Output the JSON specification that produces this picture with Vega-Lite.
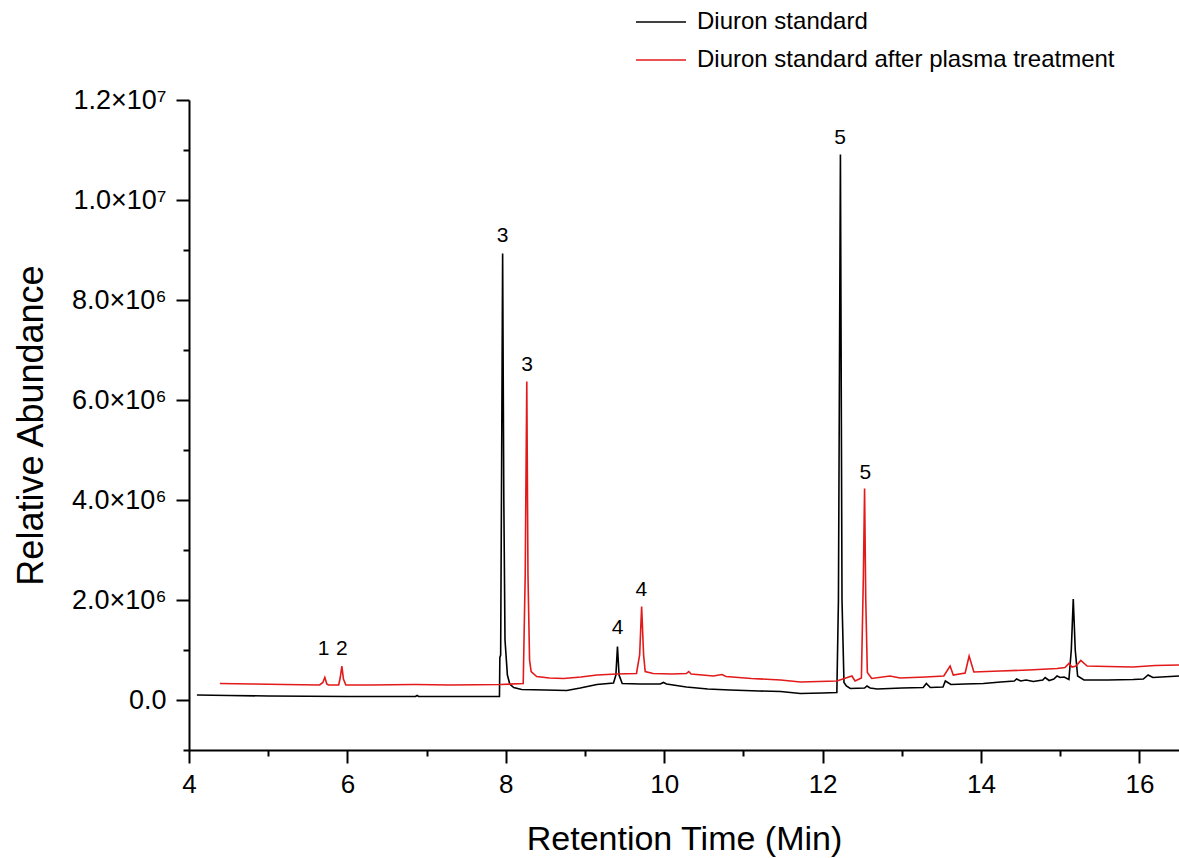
{
  "$schema": "https://vega.github.io/schema/vega-lite/v6.json",
  "width": 990,
  "height": 650,
  "autosize": {"type": "none"},
  "padding": {"left": 189, "right": 0, "top": 100, "bottom": 108},
  "background": "white",
  "config": {
    "view": {"stroke": null},
    "font": "Liberation Sans",
    "axis": {"grid": false, "domainColor": "black", "domainWidth": 2, "tickColor": "black", "tickWidth": 2, "labelColor": "black", "titleColor": "black", "labelFont": "Liberation Sans", "titleFont": "Liberation Sans", "titleFontWeight": "normal"}
  },
  "datasets": {
    "traces": [
      {"t": 4.10, "v": 100000, "s": "Diuron standard"},
      {"t": 4.5, "v": 90000, "s": "Diuron standard"},
      {"t": 5.0, "v": 80000, "s": "Diuron standard"},
      {"t": 5.5, "v": 75000, "s": "Diuron standard"},
      {"t": 6.0, "v": 70000, "s": "Diuron standard"},
      {"t": 6.86, "v": 70000, "s": "Diuron standard"},
      {"t": 6.88, "v": 90000, "s": "Diuron standard"},
      {"t": 6.90, "v": 70000, "s": "Diuron standard"},
      {"t": 7.5, "v": 70000, "s": "Diuron standard"},
      {"t": 7.92, "v": 70000, "s": "Diuron standard"},
      {"t": 7.925, "v": 850000, "s": "Diuron standard"},
      {"t": 7.935, "v": 900000, "s": "Diuron standard"},
      {"t": 7.945, "v": 4000000, "s": "Diuron standard"},
      {"t": 7.96, "v": 8930000, "s": "Diuron standard"},
      {"t": 7.975, "v": 4000000, "s": "Diuron standard"},
      {"t": 7.99, "v": 1200000, "s": "Diuron standard"},
      {"t": 8.02, "v": 500000, "s": "Diuron standard"},
      {"t": 8.05, "v": 320000, "s": "Diuron standard"},
      {"t": 8.10, "v": 250000, "s": "Diuron standard"},
      {"t": 8.2, "v": 210000, "s": "Diuron standard"},
      {"t": 8.5, "v": 200000, "s": "Diuron standard"},
      {"t": 8.77, "v": 190000, "s": "Diuron standard"},
      {"t": 8.94, "v": 240000, "s": "Diuron standard"},
      {"t": 9.15, "v": 310000, "s": "Diuron standard"},
      {"t": 9.36, "v": 340000, "s": "Diuron standard"},
      {"t": 9.39, "v": 500000, "s": "Diuron standard"},
      {"t": 9.41, "v": 1070000, "s": "Diuron standard"},
      {"t": 9.43, "v": 500000, "s": "Diuron standard"},
      {"t": 9.47, "v": 330000, "s": "Diuron standard"},
      {"t": 9.7, "v": 320000, "s": "Diuron standard"},
      {"t": 9.95, "v": 320000, "s": "Diuron standard"},
      {"t": 9.99, "v": 350000, "s": "Diuron standard"},
      {"t": 10.03, "v": 320000, "s": "Diuron standard"},
      {"t": 10.28, "v": 260000, "s": "Diuron standard"},
      {"t": 10.55, "v": 220000, "s": "Diuron standard"},
      {"t": 10.83, "v": 200000, "s": "Diuron standard"},
      {"t": 11.2, "v": 180000, "s": "Diuron standard"},
      {"t": 11.47, "v": 170000, "s": "Diuron standard"},
      {"t": 11.72, "v": 130000, "s": "Diuron standard"},
      {"t": 12.0, "v": 140000, "s": "Diuron standard"},
      {"t": 12.18, "v": 150000, "s": "Diuron standard"},
      {"t": 12.2, "v": 2000000, "s": "Diuron standard"},
      {"t": 12.225, "v": 10910000, "s": "Diuron standard"},
      {"t": 12.245, "v": 2000000, "s": "Diuron standard"},
      {"t": 12.27, "v": 350000, "s": "Diuron standard"},
      {"t": 12.30, "v": 280000, "s": "Diuron standard"},
      {"t": 12.35, "v": 230000, "s": "Diuron standard"},
      {"t": 12.53, "v": 240000, "s": "Diuron standard"},
      {"t": 12.56, "v": 280000, "s": "Diuron standard"},
      {"t": 12.6, "v": 240000, "s": "Diuron standard"},
      {"t": 12.69, "v": 220000, "s": "Diuron standard"},
      {"t": 13.0, "v": 240000, "s": "Diuron standard"},
      {"t": 13.27, "v": 250000, "s": "Diuron standard"},
      {"t": 13.31, "v": 330000, "s": "Diuron standard"},
      {"t": 13.36, "v": 250000, "s": "Diuron standard"},
      {"t": 13.52, "v": 260000, "s": "Diuron standard"},
      {"t": 13.55, "v": 380000, "s": "Diuron standard"},
      {"t": 13.62, "v": 310000, "s": "Diuron standard"},
      {"t": 13.8, "v": 320000, "s": "Diuron standard"},
      {"t": 14.03, "v": 330000, "s": "Diuron standard"},
      {"t": 14.25, "v": 360000, "s": "Diuron standard"},
      {"t": 14.42, "v": 380000, "s": "Diuron standard"},
      {"t": 14.45, "v": 420000, "s": "Diuron standard"},
      {"t": 14.5, "v": 380000, "s": "Diuron standard"},
      {"t": 14.57, "v": 400000, "s": "Diuron standard"},
      {"t": 14.66, "v": 370000, "s": "Diuron standard"},
      {"t": 14.78, "v": 400000, "s": "Diuron standard"},
      {"t": 14.81, "v": 450000, "s": "Diuron standard"},
      {"t": 14.86, "v": 390000, "s": "Diuron standard"},
      {"t": 14.92, "v": 420000, "s": "Diuron standard"},
      {"t": 14.96, "v": 480000, "s": "Diuron standard"},
      {"t": 15.0, "v": 450000, "s": "Diuron standard"},
      {"t": 15.05, "v": 460000, "s": "Diuron standard"},
      {"t": 15.11, "v": 410000, "s": "Diuron standard"},
      {"t": 15.14, "v": 1000000, "s": "Diuron standard"},
      {"t": 15.165, "v": 2020000, "s": "Diuron standard"},
      {"t": 15.19, "v": 1000000, "s": "Diuron standard"},
      {"t": 15.22, "v": 480000, "s": "Diuron standard"},
      {"t": 15.3, "v": 400000, "s": "Diuron standard"},
      {"t": 15.6, "v": 400000, "s": "Diuron standard"},
      {"t": 15.92, "v": 410000, "s": "Diuron standard"},
      {"t": 16.05, "v": 420000, "s": "Diuron standard"},
      {"t": 16.11, "v": 500000, "s": "Diuron standard"},
      {"t": 16.17, "v": 450000, "s": "Diuron standard"},
      {"t": 16.5, "v": 480000, "s": "Diuron standard"},
      {"t": 4.39, "v": 330000, "s": "Diuron standard after plasma treatment"},
      {"t": 4.8, "v": 320000, "s": "Diuron standard after plasma treatment"},
      {"t": 5.2, "v": 310000, "s": "Diuron standard after plasma treatment"},
      {"t": 5.65, "v": 300000, "s": "Diuron standard after plasma treatment"},
      {"t": 5.69, "v": 350000, "s": "Diuron standard after plasma treatment"},
      {"t": 5.715, "v": 450000, "s": "Diuron standard after plasma treatment"},
      {"t": 5.74, "v": 320000, "s": "Diuron standard after plasma treatment"},
      {"t": 5.76, "v": 300000, "s": "Diuron standard after plasma treatment"},
      {"t": 5.89, "v": 300000, "s": "Diuron standard after plasma treatment"},
      {"t": 5.91, "v": 450000, "s": "Diuron standard after plasma treatment"},
      {"t": 5.93, "v": 680000, "s": "Diuron standard after plasma treatment"},
      {"t": 5.95, "v": 420000, "s": "Diuron standard after plasma treatment"},
      {"t": 5.98, "v": 300000, "s": "Diuron standard after plasma treatment"},
      {"t": 6.3, "v": 300000, "s": "Diuron standard after plasma treatment"},
      {"t": 6.83, "v": 310000, "s": "Diuron standard after plasma treatment"},
      {"t": 6.86, "v": 310000, "s": "Diuron standard after plasma treatment"},
      {"t": 7.3, "v": 300000, "s": "Diuron standard after plasma treatment"},
      {"t": 7.93, "v": 310000, "s": "Diuron standard after plasma treatment"},
      {"t": 8.22, "v": 330000, "s": "Diuron standard after plasma treatment"},
      {"t": 8.245, "v": 2500000, "s": "Diuron standard after plasma treatment"},
      {"t": 8.265, "v": 6370000, "s": "Diuron standard after plasma treatment"},
      {"t": 8.28, "v": 2500000, "s": "Diuron standard after plasma treatment"},
      {"t": 8.30, "v": 800000, "s": "Diuron standard after plasma treatment"},
      {"t": 8.32, "v": 570000, "s": "Diuron standard after plasma treatment"},
      {"t": 8.39, "v": 470000, "s": "Diuron standard after plasma treatment"},
      {"t": 8.55, "v": 440000, "s": "Diuron standard after plasma treatment"},
      {"t": 8.73, "v": 430000, "s": "Diuron standard after plasma treatment"},
      {"t": 8.95, "v": 460000, "s": "Diuron standard after plasma treatment"},
      {"t": 9.15, "v": 500000, "s": "Diuron standard after plasma treatment"},
      {"t": 9.4, "v": 520000, "s": "Diuron standard after plasma treatment"},
      {"t": 9.65, "v": 530000, "s": "Diuron standard after plasma treatment"},
      {"t": 9.69, "v": 900000, "s": "Diuron standard after plasma treatment"},
      {"t": 9.715, "v": 1870000, "s": "Diuron standard after plasma treatment"},
      {"t": 9.74, "v": 900000, "s": "Diuron standard after plasma treatment"},
      {"t": 9.76, "v": 570000, "s": "Diuron standard after plasma treatment"},
      {"t": 9.86, "v": 530000, "s": "Diuron standard after plasma treatment"},
      {"t": 10.1, "v": 520000, "s": "Diuron standard after plasma treatment"},
      {"t": 10.28, "v": 530000, "s": "Diuron standard after plasma treatment"},
      {"t": 10.31, "v": 570000, "s": "Diuron standard after plasma treatment"},
      {"t": 10.34, "v": 520000, "s": "Diuron standard after plasma treatment"},
      {"t": 10.62, "v": 480000, "s": "Diuron standard after plasma treatment"},
      {"t": 10.73, "v": 510000, "s": "Diuron standard after plasma treatment"},
      {"t": 10.78, "v": 470000, "s": "Diuron standard after plasma treatment"},
      {"t": 11.1, "v": 430000, "s": "Diuron standard after plasma treatment"},
      {"t": 11.47, "v": 400000, "s": "Diuron standard after plasma treatment"},
      {"t": 11.72, "v": 360000, "s": "Diuron standard after plasma treatment"},
      {"t": 12.18, "v": 380000, "s": "Diuron standard after plasma treatment"},
      {"t": 12.37, "v": 480000, "s": "Diuron standard after plasma treatment"},
      {"t": 12.41, "v": 380000, "s": "Diuron standard after plasma treatment"},
      {"t": 12.49, "v": 440000, "s": "Diuron standard after plasma treatment"},
      {"t": 12.515, "v": 2500000, "s": "Diuron standard after plasma treatment"},
      {"t": 12.53, "v": 4230000, "s": "Diuron standard after plasma treatment"},
      {"t": 12.545, "v": 2000000, "s": "Diuron standard after plasma treatment"},
      {"t": 12.565, "v": 550000, "s": "Diuron standard after plasma treatment"},
      {"t": 12.62, "v": 430000, "s": "Diuron standard after plasma treatment"},
      {"t": 12.85, "v": 480000, "s": "Diuron standard after plasma treatment"},
      {"t": 12.98, "v": 440000, "s": "Diuron standard after plasma treatment"},
      {"t": 13.3, "v": 460000, "s": "Diuron standard after plasma treatment"},
      {"t": 13.53, "v": 480000, "s": "Diuron standard after plasma treatment"},
      {"t": 13.61, "v": 680000, "s": "Diuron standard after plasma treatment"},
      {"t": 13.65, "v": 500000, "s": "Diuron standard after plasma treatment"},
      {"t": 13.80, "v": 540000, "s": "Diuron standard after plasma treatment"},
      {"t": 13.85, "v": 880000, "s": "Diuron standard after plasma treatment"},
      {"t": 13.91, "v": 560000, "s": "Diuron standard after plasma treatment"},
      {"t": 14.24, "v": 580000, "s": "Diuron standard after plasma treatment"},
      {"t": 14.6, "v": 600000, "s": "Diuron standard after plasma treatment"},
      {"t": 14.96, "v": 630000, "s": "Diuron standard after plasma treatment"},
      {"t": 15.06, "v": 650000, "s": "Diuron standard after plasma treatment"},
      {"t": 15.11, "v": 730000, "s": "Diuron standard after plasma treatment"},
      {"t": 15.15, "v": 660000, "s": "Diuron standard after plasma treatment"},
      {"t": 15.2, "v": 680000, "s": "Diuron standard after plasma treatment"},
      {"t": 15.26, "v": 790000, "s": "Diuron standard after plasma treatment"},
      {"t": 15.34, "v": 680000, "s": "Diuron standard after plasma treatment"},
      {"t": 15.6, "v": 670000, "s": "Diuron standard after plasma treatment"},
      {"t": 15.92, "v": 660000, "s": "Diuron standard after plasma treatment"},
      {"t": 16.2, "v": 690000, "s": "Diuron standard after plasma treatment"},
      {"t": 16.5, "v": 700000, "s": "Diuron standard after plasma treatment"}
    ],
    "peaks": [
      {"t": 5.70, "v": 1020000, "label": "1"},
      {"t": 5.93, "v": 1020000, "label": "2"},
      {"t": 7.96, "v": 9280000, "label": "3"},
      {"t": 8.27, "v": 6700000, "label": "3"},
      {"t": 9.41, "v": 1450000, "label": "4"},
      {"t": 9.71, "v": 2210000, "label": "4"},
      {"t": 12.22, "v": 11250000, "label": "5"},
      {"t": 12.54, "v": 4550000, "label": "5"}
    ]
  },
  "layer": [
    {
      "data": {"name": "traces"},
      "mark": {"type": "line", "strokeWidth": 1.6, "interpolate": "linear"},
      "encoding": {
        "x": {
          "field": "t", "type": "quantitative",
          "scale": {"domain": [4, 16.5], "nice": false, "zero": false},
          "axis": {
            "title": "Retention Time (Min)",
            "values": [4, 5, 6, 7, 8, 9, 10, 11, 12, 13, 14, 15, 16],
            "labelExpr": "datum.value % 2 === 0 ? format(datum.value, 'd') : ''",
            "tickSize": {"condition": {"test": "datum.value % 2 === 0", "value": 13}, "value": 6},
            "labelFontSize": 26,
            "labelPadding": 8,
            "titleFontSize": 34,
            "titlePadding": 25,
            "labelFlush": false
          }
        },
        "y": {
          "field": "v", "type": "quantitative",
          "scale": {"domain": [-1000000, 12000000], "nice": false, "zero": false},
          "axis": {
            "title": "Relative Abundance",
            "values": [-1000000, 0, 1000000, 2000000, 3000000, 4000000, 5000000, 6000000, 7000000, 8000000, 9000000, 10000000, 11000000, 12000000],
            "labelExpr": "datum.value === 12000000 ? '1.2×10⁷' : datum.value === 10000000 ? '1.0×10⁷' : datum.value === 8000000 ? '8.0×10⁶' : datum.value === 6000000 ? '6.0×10⁶' : datum.value === 4000000 ? '4.0×10⁶' : datum.value === 2000000 ? '2.0×10⁶' : datum.value === 0 ? '0.0' : ''",
            "tickSize": {"condition": {"test": "datum.value % 2000000 === 0", "value": 13}, "value": 6},
            "labelFontSize": 27,
            "labelPadding": 10,
            "titleFontSize": 36,
            "titlePadding": 21,
            "labelFlush": false
          }
        },
        "color": {
          "field": "s", "type": "nominal",
          "scale": {"domain": ["Diuron standard", "Diuron standard after plasma treatment"], "range": ["#000000", "#e21a1a"]},
          "legend": {
            "title": null,
            "orient": "none",
            "legendX": 446,
            "legendY": -104,
            "symbolType": "stroke",
            "symbolSize": 2500,
            "symbolStrokeWidth": 1.5,
            "labelFontSize": 24,
            "labelFont": "Liberation Sans",
            "labelColor": "black",
            "labelLimit": 0,
            "labelOffset": 10,
            "rowPadding": -1
          }
        }
      }
    },
    {
      "data": {"name": "peaks"},
      "mark": {"type": "text", "fontSize": 21, "font": "Liberation Sans", "color": "black", "align": "center", "baseline": "middle"},
      "encoding": {
        "x": {"field": "t", "type": "quantitative"},
        "y": {"field": "v", "type": "quantitative"},
        "text": {"field": "label", "type": "nominal"}
      }
    }
  ]
}
